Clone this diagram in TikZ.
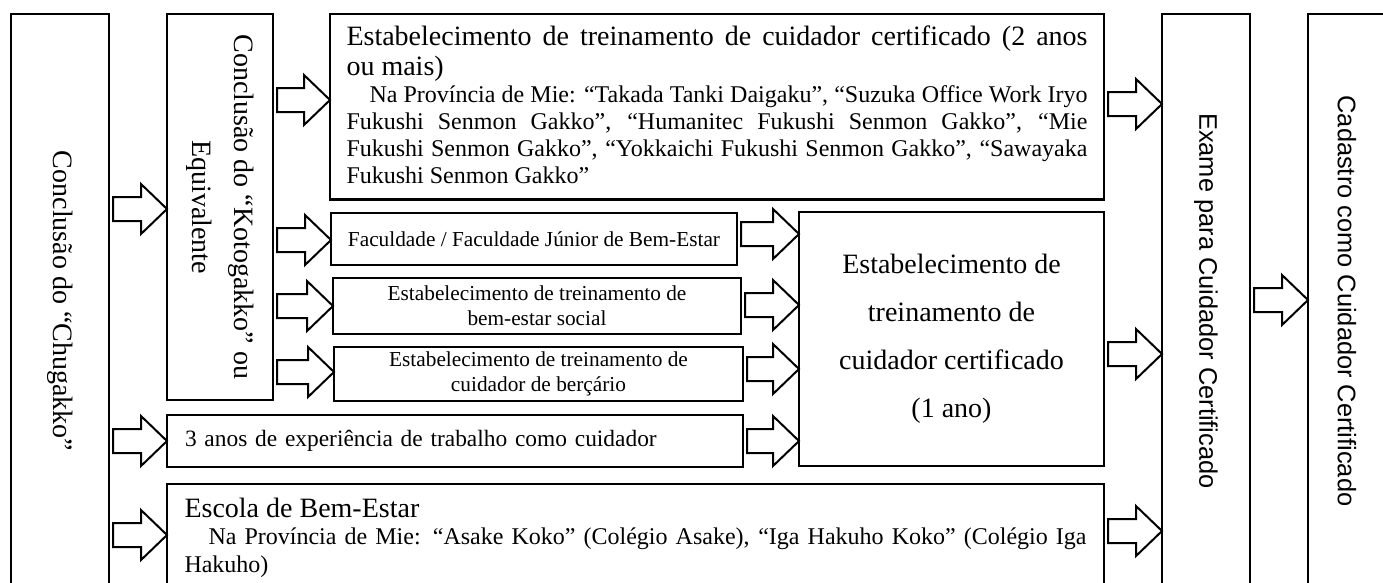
\documentclass[tikz,border=0pt]{standalone}
\usepackage{fontspec}
\setmainfont{Liberation Serif}
\setsansfont{Liberation Sans}
\usetikzlibrary{calc}
\hyphenpenalty=10000
\exhyphenpenalty=10000
\tolerance=9999
\newcommand\blockarr[3]{%
  \path[blockarrow] let \p1=(#1), \p2=(#2), \p3=(0,#3) in
    (\x1+4pt,\y3+12pt) -- (\x2-26pt,\y3+12pt) -- (\x2-26pt,\y3+25pt) -- (\x2,\y3)
    -- (\x2-26pt,\y3-25pt) -- (\x2-26pt,\y3-12pt) -- (\x1+4pt,\y3-12pt) -- cycle;}
\tikzset{
  box/.style={draw, line width=2.2pt, inner sep=0pt, outer sep=0pt},
  blockarrow/.style={draw, line width=2pt, fill=white, line join=miter},
  bigfont/.style={font=\fontsize{28}{42}\selectfont},
  smallfont/.style={font=\fontsize{21.3}{25}\selectfont},
  sansfont/.style={font=\sffamily\fontsize{25.4}{30}\selectfont}
}
\begin{document}
\begin{tikzpicture}[x=1pt,y=-1pt]
\useasboundingbox (0,0) rectangle (1383,582);
% vertical boxes
\node[box, bigfont, rotate=-90, minimum width=574, minimum height=98] (chu) at (60,301) {Conclusão do “Chugakko”};
\node[box, bigfont, rotate=-90, minimum width=386, minimum height=106, align=center] (koto) at (220,207) {Conclusão do “Kotogakko” ou\\Equivalente};
\node[box, sansfont, rotate=-90, minimum width=574, minimum height=88] (exa) at (1206,301) {Exame para Cuidador Certificado};
\node[box, sansfont, rotate=-90, minimum width=574, minimum height=78] (cad) at (1347,301) {Cadastro como Cuidador Certificado};
% top box
\node[box, anchor=north west, text width=741, inner xsep=16.5, inner ysep=11.7, align=justify] (est2) at (330,14)
{\fontsize{28}{30}\selectfont Estabelecimento de treinamento de cuidador certificado (2 anos\linebreak ou mais)\par
\fontsize{24}{27}\selectfont\hspace*{23pt}Na Província de Mie: “Takada Tanki Daigaku”, “Suzuka Office Work Iryo\linebreak Fukushi Senmon Gakko”, “Humanitec Fukushi Senmon Gakko”, “Mie\linebreak Fukushi Senmon Gakko”, “Yokkaichi Fukushi Senmon Gakko”, “Sawayaka\linebreak Fukushi Senmon Gakko”\rule[-4.3pt]{0pt}{0pt}\par};
% middle boxes
\node[box, smallfont, minimum width=406, minimum height=52] (fac) at (534,239) {Faculdade / Faculdade Júnior de Bem-Estar};
\node[box, smallfont, minimum width=408, minimum height=56, align=center] (soc) at (537,306) {Estabelecimento de treinamento de\\bem-estar social};
\node[box, smallfont, minimum width=409, minimum height=54, align=center] (ber) at (538.5,374) {Estabelecimento de treinamento de\\cuidador de berçário};
\node[box, anchor=north west, minimum height=52, text width=540, inner xsep=18, align=left, font=\fontsize{23.4}{28}\selectfont] (exp) at (167,415) {3 anos de experiência de trabalho como cuidador};
\node[box, minimum width=305, minimum height=254, align=center, font=\fontsize{28}{48}\selectfont] (ano1) at (951.5,339) {Estabelecimento de\\treinamento de\\cuidador certificado\\(1 ano)};
% bottom box (its lower edge lies below the page)
\node[box, anchor=north west, text width=902, inner xsep=17.5, inner ysep=13.7, align=justify] (esc) at (167,484)
{\fontsize{28}{30}\selectfont Escola de Bem-Estar\par
\fontsize{24}{27.5}\selectfont\hspace*{24pt}Na Província de Mie: “Asake Koko” (Colégio Asake), “Iga Hakuho Koko” (Colégio Iga\linebreak Hakuho)\rule[-20pt]{0pt}{0pt}\par};
% block arrows
\blockarr{chu.north}{koto.south}{209}
\blockarr{koto.north}{est2.west}{100}
\blockarr{koto.north}{fac.west}{240}
\blockarr{koto.north}{soc.west}{306}
\blockarr{koto.north}{ber.west}{372}
\blockarr{chu.north}{exp.west}{441}
\blockarr{chu.north}{esc.west}{535}
\blockarr{fac.east}{ano1.west}{234}
\blockarr{soc.east}{ano1.west}{305}
\blockarr{ber.east}{ano1.west}{369}
\blockarr{exp.east}{ano1.west}{441}
\blockarr{est2.east}{exa.south}{104}
\blockarr{ano1.east}{exa.south}{354}
\blockarr{esc.east}{exa.south}{531}
\blockarr{exa.north}{cad.south}{300}
\end{tikzpicture}
\end{document}
